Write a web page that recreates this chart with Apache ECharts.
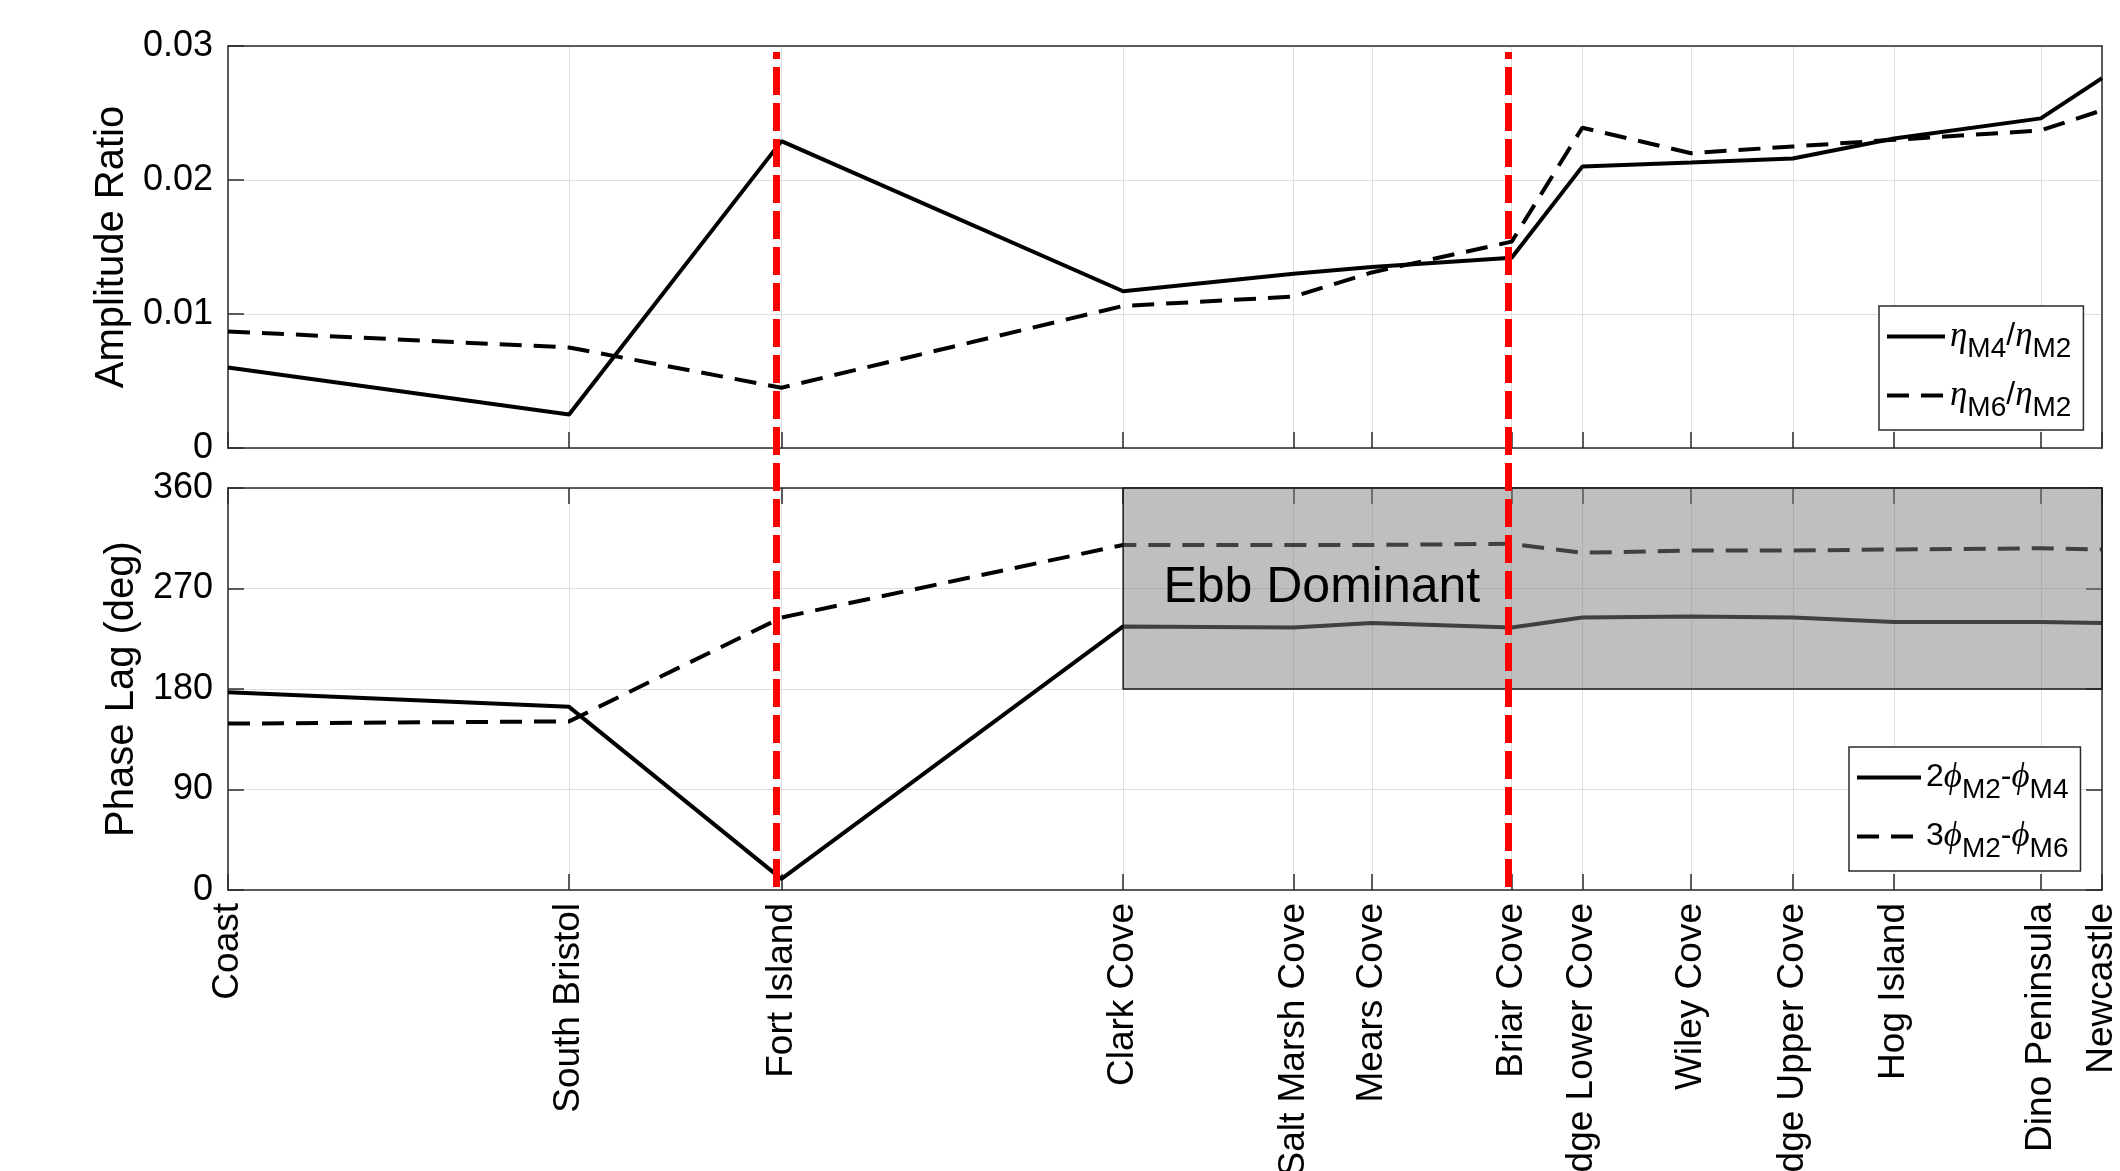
<!DOCTYPE html>
<html>
<head>
<meta charset="utf-8">
<script src="https://cdn.jsdelivr.net/npm/echarts@6/dist/echarts.min.js"></script>
<style>
  html, body { margin: 0; padding: 0; background: #ffffff; }
  #chart { width: 2120px; height: 1171px; }
</style>
</head>
<body>
<div id="chart"></div>
<script>
// Stations along the estuary and their along-channel position (km from the coast)
const stations = ['Coast', 'South Bristol', 'Fort Island', 'Clark Cove', 'Salt Marsh Cove', 'Mears Cove',
  'Briar Cove', 'Dodge Lower Cove', 'Wiley Cove', 'Dodge Upper Cove', 'Hog Island', 'Dino Peninsula', 'Newcastle'];
const stationKm = [0, 5.46, 8.86, 14.33, 17.06, 18.31, 20.55, 21.68, 23.42, 25.05, 26.67, 29.02, 30.0];

// Overtide amplitude ratios
const ampM4 = [0.0060, 0.0025, 0.0229, 0.0117, 0.0130, 0.0135, 0.0142, 0.0210, 0.0213, 0.0216, 0.0231, 0.0246, 0.0276];
const ampM6 = [0.0087, 0.0075, 0.0045, 0.0106, 0.0113, 0.0131, 0.0154, 0.0239, 0.0220, 0.0225, 0.0230, 0.0237, 0.0252];

// Relative phases (deg)
const phaseM4 = [177, 164, 10, 236, 235, 239, 235, 244, 245, 244, 240, 240, 239];
const phaseM6 = [149, 151, 244, 309, 309, 309, 310, 302, 304, 304, 305, 306, 305];

// Axis ranges: [min, max, step]
const ampAxis = [0, 0.03, 0.01];
const phaseAxis = [0, 360, 90];

// Ebb-dominant band of 2phiM2-phiM4, starting at Clark Cove
const ebbBand = [180, 360];
const ebbFromKm = stationKm[3];
// Region boundaries marked in red
const boundaryKm = [8.78, 20.49];

const FONT = 'Liberation Sans, Arial, sans-serif';
const GREEK = 'Liberation Serif, DejaVu Serif, serif';
const AXIS_COLOR = '#2b2b2b';
const GRID_COLOR = '#dedede';

const pairs = (ys) => stationKm.map((x, i) => [x, ys[i]]);
const kmMin = stationKm[0];
const kmMax = stationKm[stationKm.length - 1];

// Legend entries with subscripts
const legendRich = {
  n: { fontSize: 32, fontFamily: FONT, color: '#000', verticalAlign: 'middle', lineHeight: 36 },
  g: { fontSize: 35, fontFamily: GREEK, fontStyle: 'italic', color: '#000', verticalAlign: 'middle', lineHeight: 36 },
  s: { fontSize: 28, fontFamily: FONT, color: '#000', verticalAlign: 'bottom', lineHeight: 53 }
};
const legendText = {
  'M4/M2': '{g|η}{s|M4}{n|/}{g|η}{s|M2}',
  'M6/M2': '{g|η}{s|M6}{n|/}{g|η}{s|M2}',
  '2M2-M4': '{n|2}{g|ϕ}{s|M2}{n|-}{g|ϕ}{s|M4}',
  '3M2-M6': '{n|3}{g|ϕ}{s|M2}{n|-}{g|ϕ}{s|M6}'
};

function mainX(gridIndex, showLabels) {
  return {
    type: 'value', gridIndex: gridIndex, min: kmMin, max: kmMax, position: 'bottom',
    axisLine: { show: true, onZero: false, lineStyle: { color: AXIS_COLOR, width: 1.5 } },
    axisTick: { show: true, inside: true, length: 16, customValues: stationKm, lineStyle: { color: AXIS_COLOR, width: 1.5 } },
    axisLabel: {
      show: showLabels, customValues: stationKm, rotate: 90, margin: 13,
      fontSize: 37, fontFamily: FONT, color: '#000', hideOverlap: false, overflow: 'none',
      formatter: (v) => stations[stationKm.indexOf(v)]
    },
    splitLine: { show: true, lineStyle: { color: GRID_COLOR, width: 1 } }
  };
}
function boxX(gridIndex, ticks) {
  return {
    type: 'value', gridIndex: gridIndex, min: kmMin, max: kmMax, position: 'top',
    axisLine: { show: true, onZero: false, lineStyle: { color: AXIS_COLOR, width: 1.5 } },
    axisTick: { show: ticks, inside: true, length: 16, customValues: stationKm, lineStyle: { color: AXIS_COLOR, width: 1.5 } },
    axisLabel: { show: false }, splitLine: { show: false }
  };
}
function mainY(gridIndex, range, name, nameGap) {
  return {
    type: 'value', gridIndex: gridIndex, min: range[0], max: range[1], interval: range[2], position: 'left',
    name: name, nameLocation: 'middle', nameGap: nameGap, nameRotate: 90,
    nameTextStyle: { fontSize: 40, fontFamily: FONT, color: '#000' },
    axisLine: { show: true, onZero: false, lineStyle: { color: AXIS_COLOR, width: 1.5 } },
    axisTick: { show: true, inside: true, length: 16, lineStyle: { color: AXIS_COLOR, width: 1.5 } },
    axisLabel: { show: true, margin: 15, fontSize: 36, fontFamily: FONT, color: '#000', padding: [5, 0, 0, 0] },
    splitLine: { show: true, lineStyle: { color: GRID_COLOR, width: 1 } }
  };
}
function boxY(gridIndex, range, ticks) {
  return {
    type: 'value', gridIndex: gridIndex, min: range[0], max: range[1], interval: range[2], position: 'right',
    axisLine: { show: true, onZero: false, lineStyle: { color: AXIS_COLOR, width: 1.5 } },
    axisTick: { show: ticks, inside: true, length: 16, lineStyle: { color: AXIS_COLOR, width: 1.5 } },
    axisLabel: { show: false }, splitLine: { show: false }
  };
}

const solid = { color: '#000', width: 4, type: 'solid' };
const dashed = { color: '#000', width: 4, type: [22, 12] };

function legendBox(names, left, top, iconWidth) {
  return {
    data: names, orient: 'vertical', left: left, top: top,
    itemWidth: iconWidth, itemHeight: 2, itemGap: 15, padding: [13, 12, 8, 6],
    itemStyle: { opacity: 0 },
    lineStyle: { width: 4 },
    backgroundColor: '#ffffff', borderColor: AXIS_COLOR, borderWidth: 1.5, borderRadius: 0,
    formatter: (n) => legendText[n], textStyle: { rich: legendRich }
  };
}

const option = {
  backgroundColor: '#ffffff',
  animation: false,
  textStyle: { fontFamily: FONT },
  grid: [
    { left: 228, right: 18, top: 46, height: 402, outerBoundsMode: 'none', containLabel: false },
    { left: 228, right: 18, top: 488, height: 402, outerBoundsMode: 'none', containLabel: false },
    { left: 228, right: 18, top: 52, height: 835, outerBoundsMode: 'none', containLabel: false }
  ],
  xAxis: [
    mainX(0, false), boxX(0, false),
    mainX(1, true), boxX(1, true),
    { type: 'value', gridIndex: 2, min: kmMin, max: kmMax, show: false }
  ],
  yAxis: [
    mainY(0, ampAxis, 'Amplitude Ratio', 89), boxY(0, ampAxis, false),
    mainY(1, phaseAxis, 'Phase Lag (deg)', 81), boxY(1, phaseAxis, true),
    { type: 'value', gridIndex: 2, min: 0, max: 1, show: false }
  ],
  legend: [
    legendBox(['M4/M2', 'M6/M2'], 1879, 306, 58),
    legendBox(['2M2-M4', '3M2-M6'], 1849, 747, 64)
  ],
  series: [
    { name: 'M4/M2', type: 'line', xAxisIndex: 0, yAxisIndex: 0, data: pairs(ampM4), symbol: 'none', lineStyle: solid, itemStyle: { color: '#000' }, z: 2 },
    { name: 'M6/M2', type: 'line', xAxisIndex: 0, yAxisIndex: 0, data: pairs(ampM6), symbol: 'none', lineStyle: dashed, itemStyle: { color: '#000' }, z: 2 },
    { name: '2M2-M4', type: 'line', xAxisIndex: 2, yAxisIndex: 2, data: pairs(phaseM4), symbol: 'none', lineStyle: solid, itemStyle: { color: '#000' }, z: 2 },
    { name: '3M2-M6', type: 'line', xAxisIndex: 2, yAxisIndex: 2, data: pairs(phaseM6), symbol: 'none', lineStyle: dashed, itemStyle: { color: '#000' }, z: 2 },
    {
      name: 'ebb', type: 'line', xAxisIndex: 2, yAxisIndex: 2, data: [], silent: true,
      markArea: {
        z: 3, silent: true,
        itemStyle: { color: 'rgba(128,128,128,0.5)', borderColor: '#1a1a1a', borderWidth: 1.5 },
        label: { show: true, position: 'insideLeft', distance: 41, fontSize: 50, fontFamily: FONT, color: '#000', formatter: 'Ebb Dominant' },
        data: [[{ xAxis: ebbFromKm, yAxis: ebbBand[0] }, { xAxis: kmMax, yAxis: ebbBand[1] }]]
      }
    },
    {
      name: 'boundary', type: 'line', xAxisIndex: 4, yAxisIndex: 4, data: [], silent: true,
      markLine: {
        z: 6, silent: true, symbol: ['none', 'none'], label: { show: false },
        lineStyle: { color: '#ff0000', width: 7, type: [28, 8], opacity: 1 },
        data: boundaryKm.map((k) => ({ xAxis: k }))
      }
    }
  ]
};

const chart = echarts.init(document.getElementById('chart'), null, { renderer: 'canvas' });
chart.setOption(option);
</script>
</body>
</html>
